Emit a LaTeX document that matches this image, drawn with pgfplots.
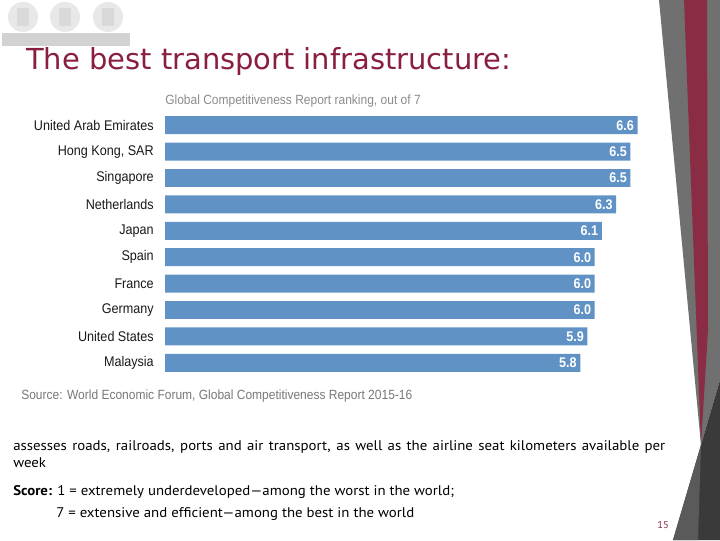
\documentclass[border=0pt]{standalone}
\usepackage{pgfplots}
\pgfplotsset{compat=1.18}
\usepackage{fontspec}
\setmainfont[FakeStretch=1.06]{PT Sans}
\newfontfamily\chartfont[FakeStretch=0.9]{Liberation Sans}
\newfontfamily\titlefont{DejaVu Sans}
\definecolor{barblue}{RGB}{96,146,197}
\definecolor{titlered}{RGB}{137,30,62}
\definecolor{stripered}{RGB}{138,45,68}
\definecolor{decogray}{RGB}{112,112,112}
\definecolor{decodark}{RGB}{58,58,58}
\definecolor{decomid}{RGB}{90,90,90}
\definecolor{srcgray}{RGB}{120,120,120}
\definecolor{subgray}{RGB}{140,140,140}
\definecolor{labelblack}{RGB}{25,25,25}
\begin{document}
\begin{tikzpicture}[x=0.75pt,y=0.75pt]
\useasboundingbox (0,0) rectangle (720,540);
\fill[white] (0,0) rectangle (720,540);
\begin{scope}[shift={(0,540)}, y=-0.75pt]
  % logo placeholder
  \foreach \cx in {23,65,108}{
    \fill[gray!18] (\cx,17) circle (15);
    \fill[gray!30] (\cx-6,8) rectangle (\cx+6,26);
  }
  \fill[gray!35] (2,33) rectangle (130,46);
  % right decoration
  \fill[decogray] (659,0) -- (720,0) -- (720,380) -- (701,445) -- cycle;
  \fill[stripered] (684,0) -- (707,0) -- (708,330) -- (701,445) -- cycle;
  \fill[decodark] (720,380) -- (701,445) -- (673,540) -- (720,540) -- cycle;
  \fill[decomid] (701,445) -- (673,540) -- (698,540) -- cycle;
  % title
  \node[anchor=base west, inner sep=0pt, text=titlered, font=\titlefont\fontsize{21.7}{25}\selectfont] at (26,70) {The best transport infrastructure:};
  % chart subtitle
  \node[anchor=base west, inner sep=0pt, text=subgray, font=\chartfont\fontsize{10}{12}\selectfont] at (165,105) {Global Competitiveness Report ranking, out of 7};
  % source
  \node[anchor=base west, inner sep=0pt, text=srcgray, font=\chartfont\fontsize{10}{12}\selectfont] at (21,399) {Source: World Economic Forum, Global Competitiveness Report 2015-16};
  % body text
  \node[anchor=base west, inner sep=0pt, text width=489pt, align=justify, font=\fontsize{10.5}{12.75}\selectfont] at (13,450) {assesses roads, railroads, ports and air transport, as well as the airline seat kilometers available per week};
  \node[anchor=base west, inner sep=0pt, font=\fontsize{10.5}{12.75}\selectfont] at (13,495) {\textbf{Score:} 1 = extremely underdeveloped---among the worst in the world;};
  \node[anchor=base west, inner sep=0pt, font=\fontsize{10.5}{12.75}\selectfont] at (56,517) {7 = extensive and efficient---among the best in the world};
  \node[anchor=base west, inner sep=0pt, text=stripered, font=\fontsize{7.5}{9}\selectfont] at (657,528) {15};
\end{scope}
\begin{axis}[
  at={(300.975pt,222pt)}, anchor=center,
  scale only axis, width=354.45pt, height=198pt,
  xbar, bar width=0.68,
  xmin=0, xmax=6.6, ymin=-0.5, ymax=9.5,
  y dir=reverse,
  axis line style={draw=none}, major tick length=0pt,
  xtick=\empty, ytick={0,...,9},
  yticklabels={United Arab Emirates,{Hong Kong, SAR},Singapore,Netherlands,Japan,Spain,France,Germany,United States,Malaysia},
  yticklabel style={font=\chartfont\fontsize{10.5}{12}\selectfont, text=labelblack, inner sep=0pt, xshift=-8.25pt, anchor=east},
  clip=false,
  point meta=x,
  /pgf/number format/assume math mode=true,
  nodes near coords={\pgfmathprintnumber[fixed,fixed zerofill,precision=1]{\pgfplotspointmeta}},
  nodes near coords style={anchor=east, text=white, inner sep=0pt, xshift=-2.5pt, font=\chartfont\bfseries\fontsize{10.5}{12}\selectfont},
]
\addplot[fill=barblue, draw=none] coordinates {
(6.6,0) (6.5,1) (6.5,2) (6.3,3) (6.1,4) (6.0,5) (6.0,6) (6.0,7) (5.9,8) (5.8,9)};
\end{axis}
\end{tikzpicture}
\end{document}
